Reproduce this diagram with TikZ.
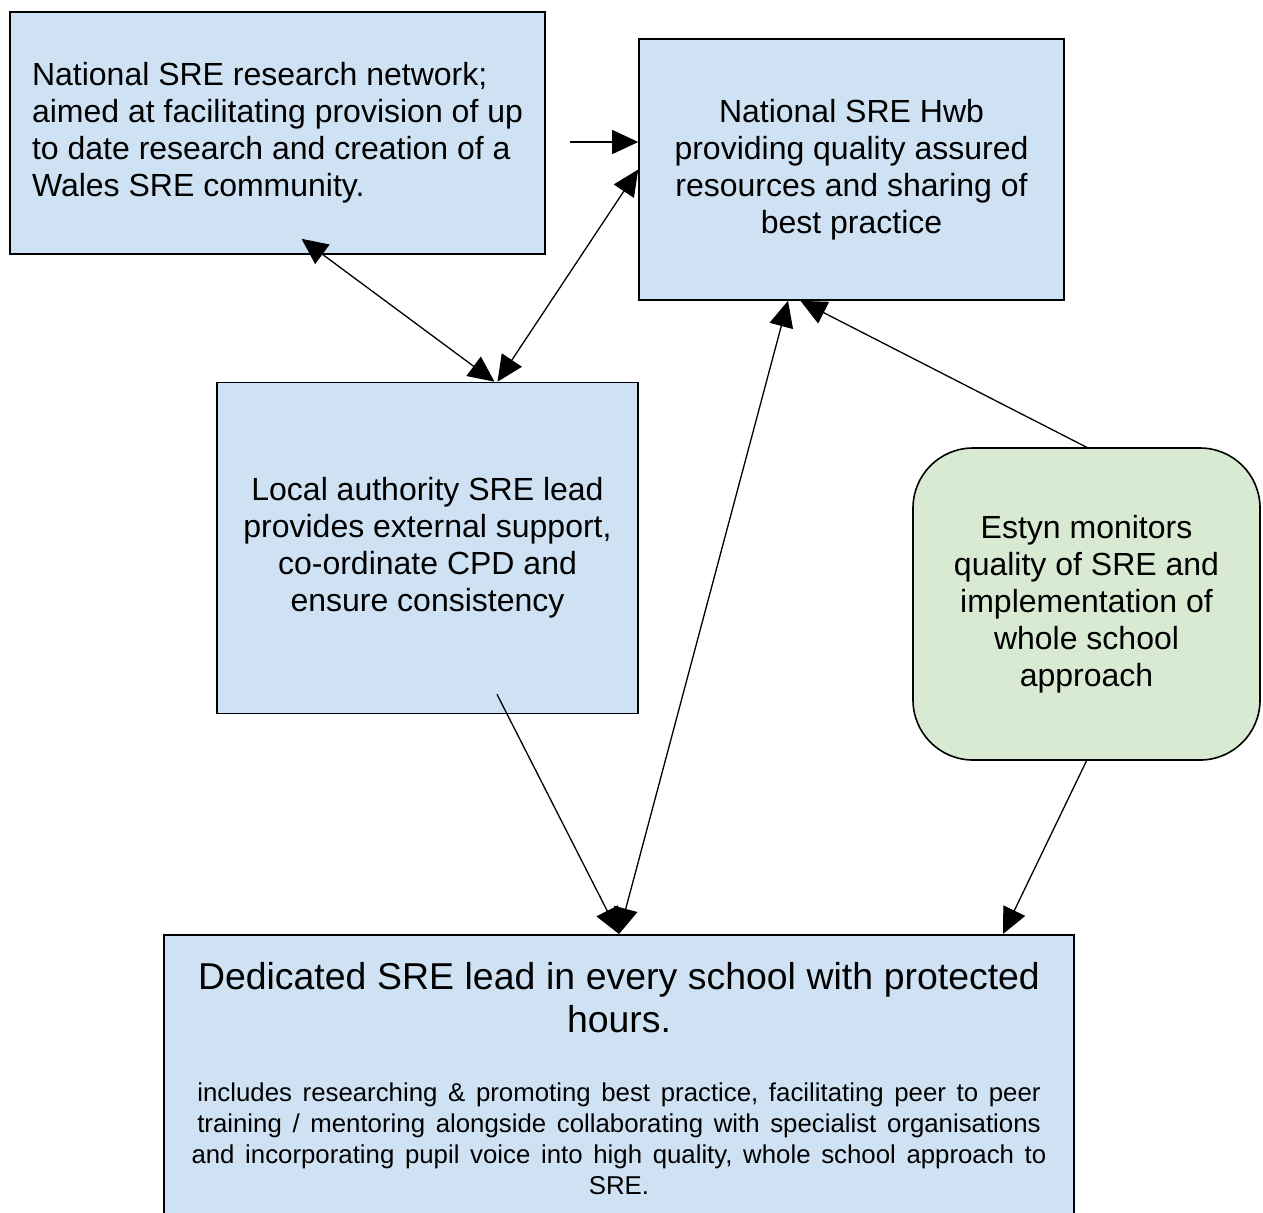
\documentclass[tikz,border=0pt]{standalone}
\usepackage{fontspec}
\setmainfont{Liberation Sans}
\usetikzlibrary{arrows.meta}
\definecolor{boxblue}{HTML}{CFE2F3}
\definecolor{boxgreen}{HTML}{D9EAD3}
\tikzset{
  srebox/.style={draw, line width=0.8pt, fill=boxblue, inner sep=0pt,
    font=\fontsize{16}{18.5}\selectfont},
  tip/.tip={Triangle[length=13pt,width=12pt]},
  link/.style={line width=0.65pt, -tip},
  twolink/.style={line width=0.65pt, tip-tip}
}
\begin{document}
\begin{tikzpicture}[x=0.5pt,y=-0.5pt]
  \useasboundingbox (0,0) rectangle (1263,1212);
  \node[srebox, minimum width=267.5pt, minimum height=121pt, align=left] (network) at (277.5,133)
    {National SRE research network;\\aimed at facilitating provision of up\\to date research and creation of a\\Wales SRE community.};
  \node[srebox, minimum width=212.5pt, minimum height=130.5pt, align=center] (hwb) at (851.5,169.5)
    {National SRE Hwb\\providing quality assured\\resources and sharing of\\best practice};
  \node[srebox, minimum width=210.5pt, minimum height=165.5pt, align=center] (lead) at (427.5,548)
    {Local authority SRE lead\\provides external support,\\co-ordinate CPD and\\ensure consistency};
  \node[srebox, fill=boxgreen, rounded corners=30pt, minimum width=173.5pt, minimum height=156pt,
    align=center] (estyn) at (1086.5,604)
    {Estyn monitors\\quality of SRE and\\implementation of\\whole school\\approach};
  \node[srebox, anchor=north, text width=455pt, inner ysep=14pt, align=center]
    (school) at (619,934)
    {{\fontsize{18.7}{21.5}\selectfont Dedicated SRE lead in every school with protected\\hours.\par}
     \vspace{19pt}
     {\fontsize{12.9}{15.5}\selectfont includes researching \& promoting best practice, facilitating peer to peer\\training / mentoring alongside collaborating with specialist organisations\\and incorporating pupil voice into high quality, whole school approach to\\SRE.\par}
     \vspace{12pt}};

  \coordinate (loose) at (570,142);
  \draw[link] (loose) -- (loose -| hwb.west);
  \draw[twolink] ([shift={(12pt,8pt)}]network.south) -- ([xshift=33.5pt]lead.north);
  \draw[twolink] ([xshift=35pt]lead.north) -- (hwb.west);
  \draw[twolink] (school.north) -- ([xshift=-31.75pt]hwb.south);
  \draw[link] (estyn.north) -- ([xshift=-25.5pt]hwb.south);
  \draw[link] ([shift={(34.75pt,10pt)}]lead.south) -- (school.north);
  \draw[link] (estyn.south) -- ([xshift=192pt]school.north);
\end{tikzpicture}
\end{document}
